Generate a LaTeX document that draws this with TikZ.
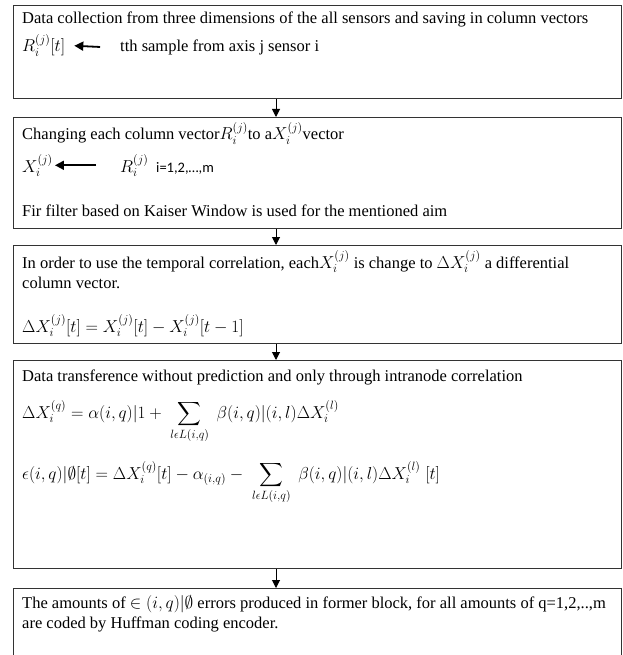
\documentclass[tikz,border=0pt]{standalone}
\usepackage{amsmath,amssymb}
\usepackage{fontspec}
\setmainfont{Liberation Serif}
\newfontfamily\calibri{Carlito}
\usetikzlibrary{positioning,arrows.meta}

\begin{document}
\begin{tikzpicture}[x=1pt, y=-1pt,
      stage/.style={draw=black!80, line width=1.2pt, anchor=north west,
                    minimum width=608pt, inner sep=0pt},
      txt/.style={anchor=base west, inner sep=0pt,
                  font=\fontsize{16.5}{20}\selectfont},
      flow/.style={-{Triangle[length=8pt, width=8pt]}, line width=1pt},
      pick/.style={-{Triangle[length=9pt, width=9pt]}, line width=1.8pt},
      node distance=15pt]
    \useasboundingbox (0,0) rectangle (622,655);
    \node[stage, minimum height=93pt] (b1) at (13,5) {};
    \node[stage, minimum height=111pt] (b2) at (13,117) {};
    \node[stage, minimum height=98pt] (b3) at (13,245) {};
    \node[stage, minimum height=208pt] (b4) at (13,360) {};
    \node[stage, minimum height=90pt] (b5) at (13,588) {};
    \coordinate (ax) at (276,0);
    \draw[flow] (b1.south -| ax) -- (b2.north -| ax);
    \draw[flow] (b2.south -| ax) -- (b3.north -| ax);
    \draw[flow] (b3.south -| ax) -- (b4.north -| ax);
    \draw[flow] (b4.south -| ax) -- (b5.north -| ax);

    \node[txt] (c1) at (22,24) {Data collection from three dimensions of the all sensors and saving in column vectors};
    \node[txt] (c2) at (22,52) {$R_i^{(j)}[t]$};
    \node[txt] (c3) at (120,52) {tth sample from axis j sensor i};
    \draw[pick, shorten <=20pt, shorten >=9pt] (c3.west) -- (c2.east);

    \node[txt] (h1) at (22,140) {Changing each column vector$R_i^{(j)}$to a$X_i^{(j)}$vector};
    \node[txt] (h2) at (22,172) {$X_i^{(j)}$};
    \node[txt] (h3) at (120,172) {$R_i^{(j)}$};
    \node[txt, font=\fontsize{14.5}{18}\calibri] (h4) at (156,172) {i=1,2,…,m};
    \draw[pick, shorten <=24pt, shorten >=2pt] (h3.west) -- (h2.east);
    \node[txt] (h5) at (22,216) {Fir filter based on Kaiser Window is used for the mentioned aim};

    \node[txt] (d1) at (22,268) {In order to use the temporal correlation, each$X_i^{(j)}$ is change to $\Delta X_i^{(j)}$ a differential};
    \node[txt] (d2) at (22,288) {column vector.};
    \node[txt] (d3) at (22,332) {$\Delta X_i^{(j)}[t]=X_i^{(j)}[t]-X_i^{(j)}[t-1]$};

    \node[txt] (e1) at (22,381) {Data transference without prediction and only through intranode correlation};
    \node[txt] (e2) at (22,418) {$\Delta X_i^{(q)}=\alpha(i,q)|1+\;\displaystyle\sum_{l\epsilon L(i,q)}\;\beta(i,q)|(i,l)\Delta X_i^{(l)}$};
    \node[txt] (e3) at (22,479) {$\epsilon(i,q)|\emptyset[t]=\Delta X_i^{(q)}[t]-\alpha_{(i,q)}-\;\displaystyle\sum_{l\epsilon L(i,q)}\;\beta(i,q)|(i,l)\Delta X_i^{(l)}\;[t]$};

    \node[txt] (f1) at (22,608) {The amounts of $\in(i,q)|\emptyset$ errors produced in former block, for all amounts of q=1,2,..,m};
    \node[txt] (f2) at (22,628) {are coded by Huffman coding encoder.};
  \end{tikzpicture}
\end{document}
